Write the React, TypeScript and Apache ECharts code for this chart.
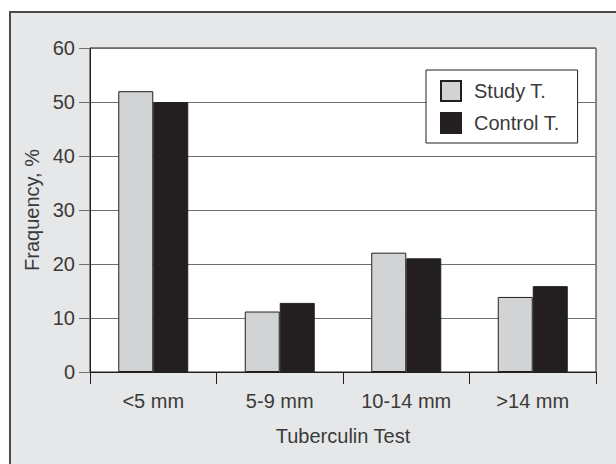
import React, { useEffect, useRef } from "react";
import * as echarts from "echarts";

const categories = ["<5 mm", "5-9 mm", "10-14 mm", ">14 mm"];
const studyValues = [52, 11.2, 22.1, 13.9];
const controlValues = [50, 12.8, 21.05, 15.9];
const seriesNames = ["Study T.", "Control T."];
const yTitle = "Fraquency, %";
const xTitle = "Tuberculin Test";

const FONT = "'Liberation Sans', Arial, Helvetica, sans-serif";
const TEXT = "#3a3a3a";
const DARK = "#231f20";

export default function App() {
  const ref = useRef<HTMLDivElement>(null);

  useEffect(() => {
    document.body.style.margin = "0";
    if (!ref.current) return;
    const chart = echarts.init(ref.current, undefined, { renderer: "svg" });
    chart.setOption({
      animation: false,
      backgroundColor: "transparent",
      textStyle: { fontFamily: FONT },
      grid: {
        left: 90,
        top: 48,
        right: 20,
        bottom: 92,
        show: true,
        backgroundColor: "#ffffff",
        borderColor: DARK,
        borderWidth: 1,
      },
      legend: {
        orient: "vertical",
        left: 426,
        top: 70,
        padding: [10, 18, 9, 14],
        itemWidth: 20,
        itemHeight: 20,
        itemGap: 10,
        backgroundColor: "#ffffff",
        borderColor: DARK,
        borderWidth: 1,
        borderRadius: 0,
        icon: "rect",
        data: seriesNames,
        textStyle: {
          fontFamily: FONT,
          fontSize: 20,
          color: TEXT,
          padding: [0, 0, 0, 8],
        },
      },
      xAxis: {
        type: "category",
        data: categories,
        name: xTitle,
        nameLocation: "middle",
        nameGap: 54,
        nameTextStyle: { fontFamily: FONT, fontSize: 20, color: TEXT },
        axisLine: { show: true, lineStyle: { color: DARK, width: 1 } },
        axisTick: { show: true, length: 12, lineStyle: { color: DARK, width: 1 } },
        axisLabel: { fontFamily: FONT, fontSize: 20, color: TEXT, margin: 19 },
        splitLine: { show: false },
      },
      yAxis: {
        type: "value",
        min: 0,
        max: 60,
        interval: 10,
        name: yTitle,
        nameLocation: "middle",
        nameGap: 45,
        nameTextStyle: { fontFamily: FONT, fontSize: 20, color: TEXT },
        axisLine: { show: true, lineStyle: { color: DARK, width: 1 } },
        axisTick: { show: true, length: 11, lineStyle: { color: "#6d6e71", width: 1 } },
        axisLabel: { fontFamily: FONT, fontSize: 20, color: TEXT, margin: 15 },
        splitLine: { show: true, lineStyle: { color: "#6d6e71", width: 1 } },
      },
      series: [
        {
          name: seriesNames[0],
          type: "bar",
          data: studyValues,
          barWidth: 35,
          barGap: "0%",
          itemStyle: { color: "#d1d3d4", borderColor: DARK, borderWidth: 1 },
        },
        {
          name: seriesNames[1],
          type: "bar",
          data: controlValues,
          barWidth: 35,
          barGap: "0%",
          itemStyle: { color: DARK, borderColor: DARK, borderWidth: 1 },
        },
      ],
    });
    return () => chart.dispose();
  }, []);

  return (
    <div style={{ position: "relative", width: 616, height: 464, background: "#ffffff", overflow: "hidden" }}>
      <div
        style={{
          position: "absolute",
          left: 9,
          top: 11,
          width: 640,
          height: 480,
          background: "#e6e7e8",
          borderLeft: "2px solid #4a4a4a",
          borderTop: "2px solid #4a4a4a",
        }}
      />
      <div ref={ref} style={{ position: "absolute", left: 0, top: 0, width: 616, height: 464 }} />
    </div>
  );
}
